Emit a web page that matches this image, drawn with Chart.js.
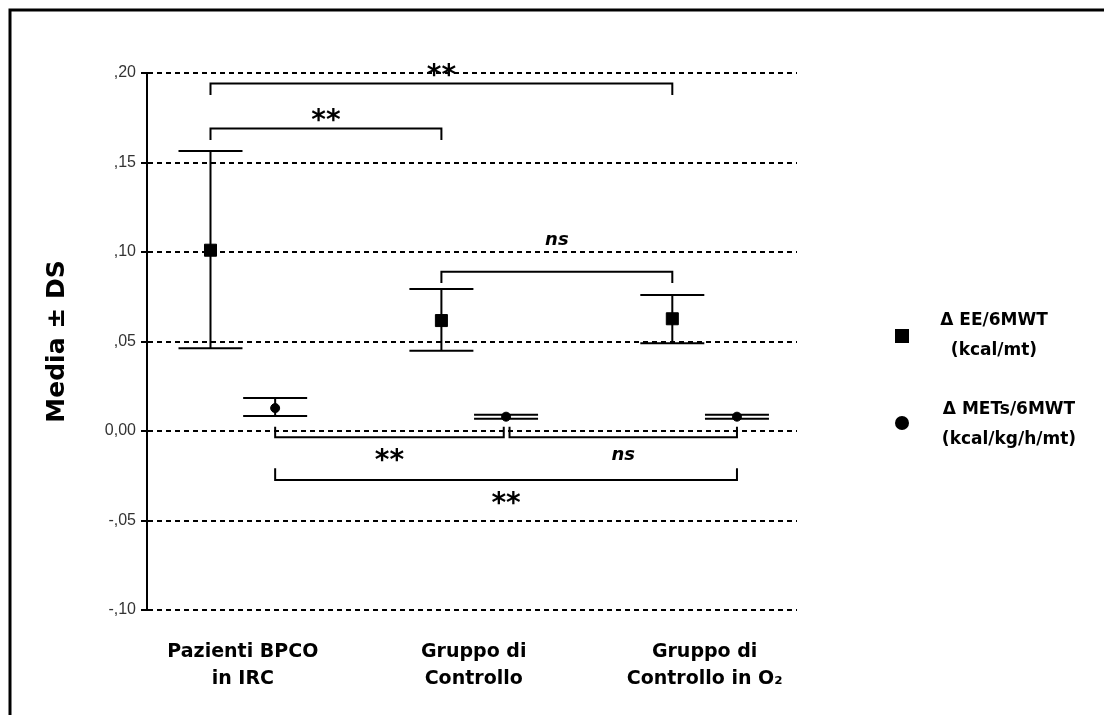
<!DOCTYPE html>
<html>
<head>
<meta charset="utf-8">
<script src="https://cdn.jsdelivr.net/npm/chart.js@4"></script>
<style>
  html, body { margin: 0; padding: 0; background: #fff; }
  canvas { display: block; }
</style>
</head>
<body>
<canvas id="chart" width="1104" height="715"></canvas>
<script>
const categories = [["Pazienti BPCO", "in IRC"], ["Gruppo di", "Controllo"], ["Gruppo di", "Controllo in O₂"]];
const yTicks = [-0.10, -0.05, 0, 0.05, 0.10, 0.15, 0.20];

// Δ EE/6MWT (kcal/mt)
const eeMean = [0.1010, 0.0617, 0.0627];
const eeUpper = [0.1564, 0.0793, 0.0760];
const eeLower = [0.0462, 0.0449, 0.0490];

// Δ METs/6MWT (kcal/kg/h/mt)
const metsMean = [0.0128, 0.0080, 0.0080];
const metsUpper = [0.0184, 0.0091, 0.0091];
const metsLower = [0.0084, 0.0069, 0.0069];

// Significance brackets (x in group units, y in data units)
const bracketFrom = [0.86, 0.86, 1.86, 1.14, 2.155, 1.14];
const bracketTo = [2.86, 1.86, 2.86, 2.13, 3.14, 3.14];
const bracketBar = [0.1941, 0.1690, 0.0890, -0.0035, -0.0035, -0.0274];
const bracketTick = [0.1877, 0.1626, 0.0827, 0.0024, 0.0024, -0.0208];
const bracketLabel = ["**", "**", "ns", "**", "ns", "**"];
const bracketLabelY = [0.1980, 0.1728, 0.1067, -0.0170, -0.0134, -0.0410];

const legendLabels = [["Δ EE/6MWT", "(kcal/mt)"], ["Δ METs/6MWT", "(kcal/kg/h/mt)"]];

// Squares sit left of the group centre, circles right
const shift = 0.14;
const capHalf = 32;

function formatTick(value) {
    const v = Math.round(value * 100);
    if (v === 0) return "0,00";
    const digits = String(Math.abs(v)).padStart(2, "0");
    return (v < 0 ? "-" : "") + "," + digits;
}

// Outer frame (top and left edge only, as in the scan)
const framePlugin = {
    id: "frame",
    beforeDraw(chart) {
        const ctx = chart.ctx;
        ctx.save();
        ctx.fillStyle = "#fff";
        ctx.fillRect(0, 0, chart.width, chart.height);
        ctx.strokeStyle = "#000";
        ctx.lineWidth = 3;
        ctx.beginPath();
        ctx.moveTo(10, chart.height);
        ctx.lineTo(10, 10);
        ctx.lineTo(chart.width, 10);
        ctx.stroke();
        ctx.restore();
    },
};

const errorBarPlugin = {
    id: "errorBars",
    beforeDatasetsDraw(chart) {
        const { ctx, scales: { x, y } } = chart;
        ctx.save();
        ctx.strokeStyle = "#000";
        ctx.lineWidth = 2;
        const drawBar = (xv, lo, hi) => {
            const px = x.getPixelForValue(xv);
            const top = y.getPixelForValue(hi);
            const bottom = y.getPixelForValue(lo);
            ctx.beginPath();
            ctx.moveTo(px, top);
            ctx.lineTo(px, bottom);
            ctx.moveTo(px - capHalf, top);
            ctx.lineTo(px + capHalf, top);
            ctx.moveTo(px - capHalf, bottom);
            ctx.lineTo(px + capHalf, bottom);
            ctx.stroke();
        };
        for (let i = 0; i < categories.length; i++) {
            drawBar(i + 1 - shift, eeLower[i], eeUpper[i]);
            drawBar(i + 1 + shift, metsLower[i], metsUpper[i]);
        }
        ctx.restore();
    },
};

const bracketPlugin = {
    id: "brackets",
    afterDatasetsDraw(chart) {
        const { ctx, scales: { x, y } } = chart;
        ctx.save();
        ctx.strokeStyle = "#000";
        ctx.fillStyle = "#000";
        ctx.lineWidth = 2;
        ctx.textAlign = "center";
        ctx.textBaseline = "middle";
        for (let i = 0; i < bracketLabel.length; i++) {
            const x1 = x.getPixelForValue(bracketFrom[i]);
            const x2 = x.getPixelForValue(bracketTo[i]);
            const yb = y.getPixelForValue(bracketBar[i]);
            const yt = y.getPixelForValue(bracketTick[i]);
            ctx.beginPath();
            ctx.moveTo(x1, yt);
            ctx.lineTo(x1, yb);
            ctx.lineTo(x2, yb);
            ctx.lineTo(x2, yt);
            ctx.stroke();

            ctx.font = bracketLabel[i] === "ns"
                ? "italic bold 18px 'DejaVu Sans'"
                : "bold 28px 'DejaVu Sans'";
            ctx.fillText(bracketLabel[i], (x1 + x2) / 2, y.getPixelForValue(bracketLabelY[i]));
        }
        ctx.restore();
    },
};

// Legend with two-line labels to the right of the plot
const legendPlugin = {
    id: "sideLegend",
    afterDraw(chart) {
        const ctx = chart.ctx;
        const rows = [{ cy: 336, textY: 321 }, { cy: 423, textY: 410 }];
        ctx.save();
        ctx.fillStyle = "#000";
        ctx.font = "bold 17px 'DejaVu Sans'";
        ctx.textAlign = "center";
        ctx.textBaseline = "middle";
        chart.data.datasets.forEach((ds, i) => {
            const row = rows[i];
            ctx.beginPath();
            if (ds.pointStyle === "rect") {
                ctx.rect(895, row.cy - 7, 14, 14);
            } else {
                ctx.arc(902, row.cy, 7, 0, Math.PI * 2);
            }
            ctx.fill();
            const cx = i === 0 ? 994 : 1009;
            legendLabels[i].forEach((line, j) => {
                ctx.fillText(line, cx, row.textY + j * 30);
            });
        });
        ctx.restore();
    },
};

const chartCanvas = document.querySelector("#chart");

new Chart(chartCanvas, {
    type: "scatter",
    data: {
        datasets: [
            {
                label: "Δ EE/6MWT (kcal/mt)",
                data: eeMean.map((v, i) => ({ x: i + 1 - shift, y: v })),
                pointStyle: "rect",
                pointRadius: 8.5,
                backgroundColor: "#000",
                borderColor: "#000",
                borderWidth: 1,
            },
            {
                label: "Δ METs/6MWT (kcal/kg/h/mt)",
                data: metsMean.map((v, i) => ({ x: i + 1 + shift, y: v })),
                pointStyle: "circle",
                pointRadius: 4.5,
                backgroundColor: "#000",
                borderColor: "#000",
                borderWidth: 1,
            },
        ],
    },
    options: {
        responsive: false,
        animation: false,
        devicePixelRatio: 1,
        layout: {
            padding: { left: 42, top: 73, right: 307, bottom: 5 },
        },
        scales: {
            x: {
                type: "linear",
                min: 0.585,
                max: 3.4,
                afterBuildTicks: (scale) => {
                    scale.ticks = categories.map((c, i) => ({ value: i + 1 }));
                },
                afterFit: (scale) => {
                    scale.height = 100;
                },
                grid: { display: false },
                border: { display: false },
                ticks: {
                    color: "#000",
                    padding: 21,
                    font: { family: "'DejaVu Sans'", size: 19, weight: "bold", lineHeight: 1.4 },
                    callback: (value) => categories[Math.round(value) - 1],
                },
            },
            y: {
                min: -0.1,
                max: 0.2,
                afterBuildTicks: (scale) => {
                    scale.ticks = yTicks.map((v) => ({ value: v }));
                },
                afterFit: (scale) => {
                    scale.width = 105;
                },
                grid: {
                    color: "#000",
                    lineWidth: 2,
                    tickLength: 6,
                    tickColor: "#000",
                    tickWidth: 2,
                },
                border: {
                    display: true,
                    color: "#000",
                    width: 2,
                    dash: [5, 4],
                },
                ticks: {
                    color: "#333",
                    padding: 5,
                    font: { family: "'Liberation Sans'", size: 16 },
                    callback: (value) => formatTick(value),
                },
                title: {
                    display: true,
                    text: "Media ± DS",
                    color: "#000",
                    padding: { top: 0, bottom: 0 },
                    font: { family: "'DejaVu Sans'", size: 25, weight: "bold" },
                },
            },
        },
        plugins: {
            legend: { display: false },
            tooltip: { enabled: false },
        },
    },
    plugins: [framePlugin, errorBarPlugin, bracketPlugin, legendPlugin],
});
</script>
</body>
</html>
